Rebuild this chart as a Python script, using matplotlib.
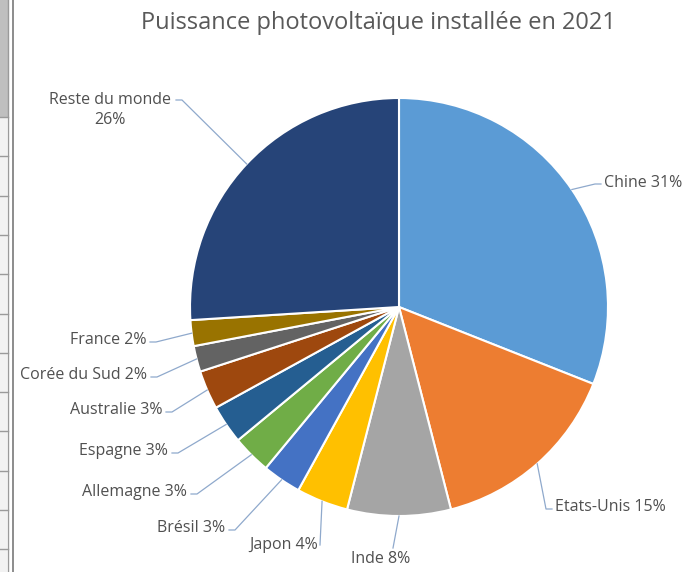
import numpy as np
import matplotlib.pyplot as plt
from matplotlib.lines import Line2D
from matplotlib.patches import Rectangle

pays = ["Chine", "Etats-Unis", "Inde", "Japon", "Brésil", "Allemagne",
        "Espagne", "Australie", "Corée du Sud", "France", "Reste du monde"]
parts = [31, 15, 8, 4, 3, 3, 3, 3, 2, 2, 26]
couleurs = ["#5B9BD5", "#ED7D31", "#A5A5A5", "#FFC000", "#4472C4", "#70AD47",
            "#255E91", "#9E480E", "#636363", "#997300", "#264478"]
etiquettes = ["Chine 31%", "Etats-Unis 15%", "Inde 8%", "Japon 4%", "Brésil 3%",
              "Allemagne 3%", "Espagne 3%", "Australie 3%", "Corée du Sud 2%",
              "France 2%", "Reste du monde\n26%"]

W, H = 683, 572
fig = plt.figure(figsize=(W / 100, H / 100), dpi=100)

# bout de feuille de calcul sur la gauche
strip = fig.add_axes([0, 0, 14 / W, 1])
strip.set_xlim(0, 14)
strip.set_ylim(H, 0)
strip.axis("off")
strip.add_patch(Rectangle((0, 0), 8, 117, color="#bfbfbf", lw=0))
strip.add_patch(Rectangle((0, 117), 7, H - 117, color="#f2f2f2", lw=0))
for y in np.arange(117, H, 39.3):
    strip.add_line(Line2D([0, 8], [y, y], color="#9a9a9a", lw=1))
strip.add_line(Line2D([7.5, 7.5], [0, H], color="#9a9a9a", lw=1))
strip.add_line(Line2D([12.5, 12.5], [0, H], color="#8c8c8c", lw=1.4))

# camembert : centre (399, 307) px, rayon 209 px
cx, cy, r = 399, 307, 209
ax = fig.add_axes([(cx - r) / W, (H - cy - r) / H, 2 * r / W, 2 * r / H])
wedges, _ = ax.pie(parts, colors=couleurs, startangle=90, counterclock=False,
                   wedgeprops=dict(edgecolor="white", linewidth=1.5))
ax.set_xlim(-1, 1)
ax.set_ylim(-1, 1)
ax.axis("off")

fig.text(378 / W, 1 - 23 / H, "Puissance photovoltaïque installée en 2021",
         ha="center", va="center", fontsize=17, color="#595959",
         family="Open Sans")

# texte (x, y, alignement) et bout de la ligne de rappel (x, y), en px
pos_txt = [(604, 183, "left"), (555, 507, "left"), (381, 559, "center"),
           (318, 545, "right"), (225, 528, "right"), (187, 492, "right"),
           (168, 451, "right"), (162, 410, "right"), (147, 375, "right"),
           (146, 340, "right"), (110, 110, "center")]
bout = [(601, 184), (552, 509), (393, 548), (320, 545), (229, 530),
        (191, 494), (172, 453), (166, 412), (151, 377), (150, 342), (176, 100)]

cum = np.cumsum([0] + parts)
for i, lab in enumerate(etiquettes):
    mid = 90 - 3.6 * (cum[i] + cum[i + 1]) / 2
    px = cx + r * np.cos(np.radians(mid))
    py = cy - r * np.sin(np.radians(mid))
    tx, ty, ha = pos_txt[i]
    fig.text(tx / W, 1 - ty / H, lab, ha=ha, va="center", fontsize=11.5,
             color="#505050", family="Open Sans", linespacing=1.25)
    ex, ey = bout[i]
    # petit palier horizontal puis segment vers le bord de la part
    if i in (2, 3):
        xs, ys = [ex, ex, px], [ey, ey, py]
    else:
        kx = ex + (6 if px > ex else -6)
        xs, ys = [ex, kx, px], [ey, ey, py]
    fig.add_artist(Line2D([x / W for x in xs], [1 - y / H for y in ys],
                          color="#8fa9cc", lw=0.9))

fig.savefig("out.png", dpi=100, facecolor="white")
